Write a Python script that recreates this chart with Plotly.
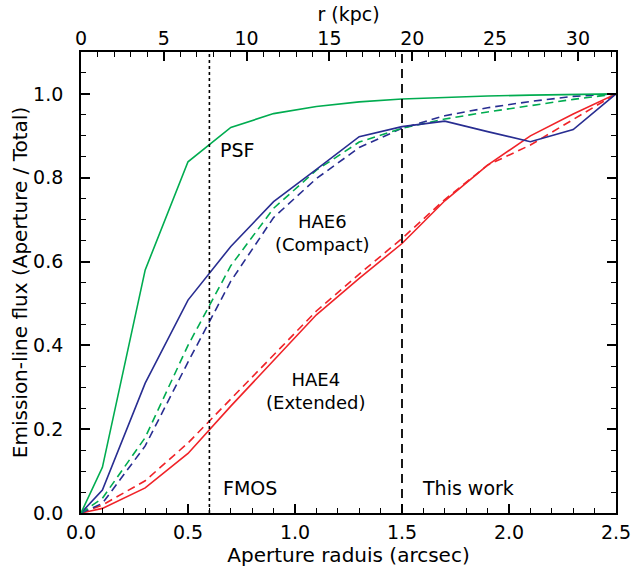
import plotly.graph_objects as go

# Aperture radius (arcsec)
radius = [0.0, 0.1, 0.3, 0.5, 0.7, 0.9, 1.1, 1.3, 1.5, 1.7, 1.9, 2.1, 2.3, 2.5]

psf = [0.0, 0.109, 0.58, 0.838, 0.92, 0.953, 0.970, 0.981, 0.988, 0.992, 0.995, 0.997, 0.999, 1.0]
hae6_solid = [0.0, 0.055, 0.31, 0.508, 0.636, 0.743, 0.82, 0.898, 0.922, 0.935, 0.91, 0.886, 0.915, 1.0]
hae6_psf_dash = [0.0, 0.035, 0.18, 0.40, 0.59, 0.727, 0.818, 0.885, 0.918, 0.940, 0.957, 0.972, 0.987, 1.0]
hae6_blue_dash = [0.0, 0.023, 0.16, 0.36, 0.553, 0.705, 0.798, 0.872, 0.918, 0.948, 0.967, 0.982, 0.994, 1.0]
hae4_solid = [0.0, 0.011, 0.06, 0.142, 0.255, 0.365, 0.473, 0.56, 0.643, 0.745, 0.83, 0.90, 0.952, 1.0]
hae4_dash = [0.0, 0.019, 0.077, 0.167, 0.272, 0.378, 0.482, 0.57, 0.655, 0.748, 0.83, 0.878, 0.94, 1.0]

fmos_aperture = 0.6
this_work_aperture = 1.5
kpc_max = 32.3
x_ticks = [0.0, 0.5, 1.0, 1.5, 2.0, 2.5]
x_labels = ["0.0", "0.5", "1.0", "1.5", "2.0", "2.5"]
y_ticks = [0.0, 0.2, 0.4, 0.6, 0.8, 1.0]
y_labels = ["0.0", "0.2", "0.4", "0.6", "0.8", "1.0"]
kpc_ticks = [0, 5, 10, 15, 20, 25, 30]

GREEN = "rgb(0,172,80)"
BLUE = "rgb(40,45,145)"
RED = "rgb(240,35,40)"
FONT = "DejaVu Sans"

fig = go.Figure()

def add(y, color, dash):
    fig.add_trace(go.Scatter(x=radius, y=y, mode="lines",
                             line=dict(color=color, width=1.6, dash=dash),
                             showlegend=False, hoverinfo="skip"))

add(hae4_dash, RED, "8px,5px")
add(hae4_solid, RED, "solid")
add(hae6_blue_dash, BLUE, "8px,5px")
add(hae6_psf_dash, GREEN, "8px,5px")
add(hae6_solid, BLUE, "solid")
add(psf, GREEN, "solid")

# invisible trace to activate the top (kpc) axis
fig.add_trace(go.Scatter(x=[0, kpc_max], y=[None, None], xaxis="x2", yaxis="y",
                         mode="lines", showlegend=False, hoverinfo="skip"))
# invisible trace for right axis
fig.add_trace(go.Scatter(x=[None], y=[None], xaxis="x", yaxis="y2",
                         mode="lines", showlegend=False, hoverinfo="skip"))

fig.add_shape(type="line", x0=fmos_aperture, x1=fmos_aperture, y0=0, y1=1,
              xref="x", yref="paper", line=dict(color="black", width=1.6, dash="dot"))
fig.add_shape(type="line", x0=this_work_aperture, x1=this_work_aperture, y0=0, y1=1,
              xref="x", yref="paper", line=dict(color="black", width=1.8, dash="9px,6px"))

tf = dict(family=FONT, size=19, color="black")
af = dict(family=FONT, size=18, color="black")
titlef = dict(family=FONT, size=20, color="black")
ann = [
    ("PSF", 0.73, 0.866),
    ("HAE6<br>(Compact)", 1.13, 0.668),
    ("HAE4<br>(Extended)", 1.10, 0.29),
    ("FMOS", 0.79, 0.06),
    ("This work", 1.81, 0.06),
]
for t, x, y in ann:
    fig.add_annotation(x=x, y=y, text=t, showarrow=False, font=af if "<br>" in t else tf,
                       xref="x", yref="y")

axis_common = dict(showline=True, linecolor="black", linewidth=1.8, ticks="inside",
                   tickcolor="black", tickwidth=1.5, ticklen=9, showgrid=False,
                   zeroline=False, tickfont=tf, automargin=False, ticklabeloverflow="allow")
minor_style = dict(ticks="inside", ticklen=5, tickcolor="black", tickwidth=1.3)

fig.update_layout(
    width=631, height=574,
    margin=dict(l=81, r=15, t=52, b=61),
    plot_bgcolor="white", paper_bgcolor="white",
    xaxis=dict(range=[0, 2.5], tickvals=x_ticks, ticktext=x_labels,
               minor=dict(dtick=0.1, **minor_style), ticklabelstandoff=1,
               title=dict(text="Aperture raduis (arcsec)", font=titlef, standoff=0),
               **axis_common),
    xaxis2=dict(range=[0, kpc_max], overlaying="x", side="top", anchor="y",
                tickvals=kpc_ticks, minor=dict(dtick=1, **minor_style), ticklabelstandoff=-2,
                title=dict(text="r (kpc)", font=tf, standoff=0),
                **axis_common),
    yaxis=dict(range=[0, 1.1], tickvals=y_ticks, ticktext=y_labels,
               minor=dict(dtick=0.05, **minor_style), ticklabelstandoff=12,
               title=dict(text="Emission-line flux (Aperture / Total)", font=titlef, standoff=0),
               **axis_common),
    yaxis2=dict(range=[0, 1.1], overlaying="y", side="right", anchor="x",
                tickvals=y_ticks, showticklabels=False,
                minor=dict(dtick=0.05, **minor_style),
                **axis_common),
)

fig.write_html("out.html")
